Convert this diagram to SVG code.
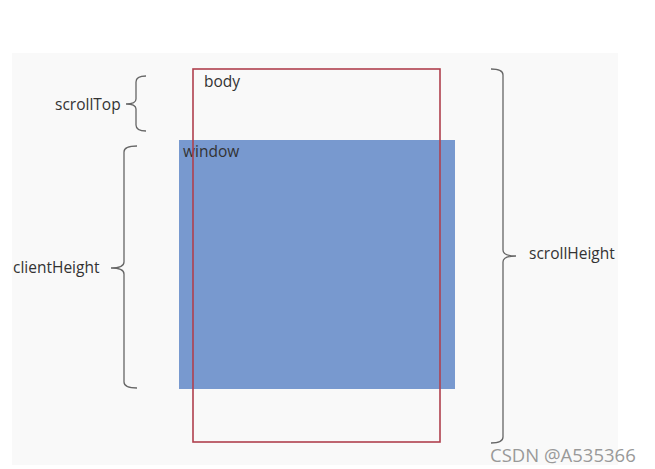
<svg xmlns="http://www.w3.org/2000/svg" width="655" height="469" viewBox="0 0 655 469">
<style>
.lbl{font-family:"Open Sans","Noto Sans","Liberation Sans",sans-serif;font-size:15.5px;fill:#333}
.brace{fill:none;stroke:#666;stroke-width:1.3}
</style>
<rect width="655" height="469" fill="#ffffff"/>
<rect x="12" y="53" width="606" height="412" fill="#f9f9f9"/>
<g id="window">
<rect x="179" y="140" width="276" height="249" fill="#7899cf"/>
<text class="lbl" x="183" y="157">window</text>
</g>
<g id="body">
<rect x="193" y="69" width="247" height="373" fill="none" stroke="#b0404e" stroke-width="1.6"/>
<text class="lbl" x="204" y="87">body</text>
</g>
<g id="connectors">
<path class="brace" d="M146,76 Q136,76 136,82 L136,99 Q136,104 126,104 Q136,104 136,109 L136,125 Q136,131 146,131"/>
<path class="brace" d="M137,146 Q124,146 124,152 L124,262 Q124,268 111,268 Q124,268 124,274 L124,382 Q124,388 137,388"/>
<path class="brace" d="M491,69 Q503,69 503,75 L503,250 Q503,256 516,256 Q503,256 503,262 L503,437 Q503,443 491,443"/>
</g>
<g id="scrollTop"><text class="lbl" x="55" y="110">scrollTop</text></g>
<g id="clientHeight"><text class="lbl" x="13" y="273">clientHeight</text></g>
<g id="scrollHeight"><text class="lbl" x="529" y="259">scrollHeight</text></g>
<text x="490" y="462" font-family="'Open Sans','Noto Sans',sans-serif" font-size="18.5" fill="#999">CSDN @A535366</text>
</svg>
